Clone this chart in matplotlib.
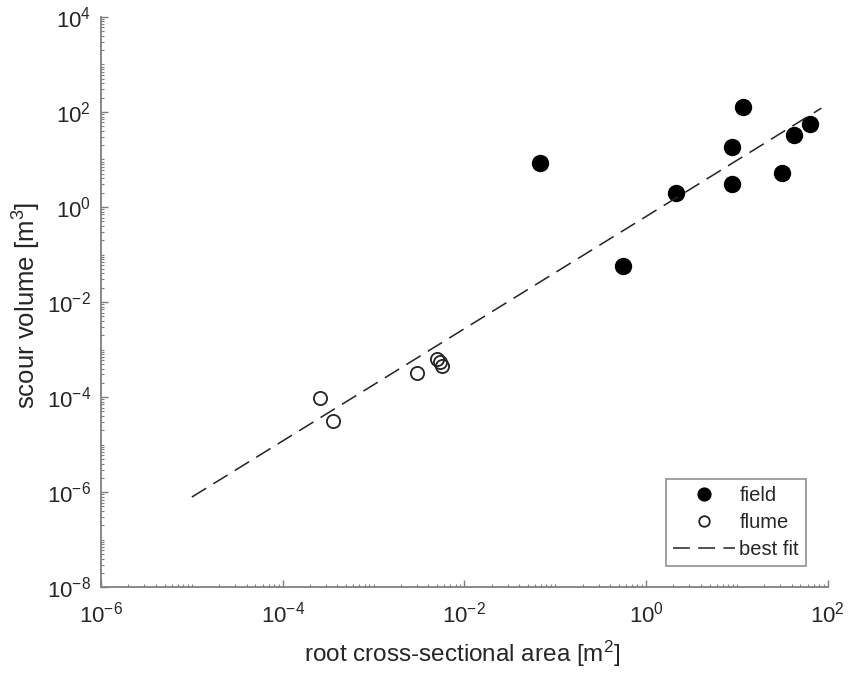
import matplotlib
matplotlib.use("Agg")
import matplotlib.pyplot as plt
import numpy as np
from matplotlib.ticker import LogLocator, NullFormatter

# root cross-sectional area [m^2] and scour volume [m^3]
field_area = [0.068, 0.55, 2.15, 8.9, 8.9, 11.7, 31.6, 42.7, 63.0]
field_volume = [8.5, 0.058, 1.95, 18.2, 3.0, 126.0, 5.2, 33.1, 56.0]

flume_area = [2.6e-4, 3.6e-4, 3.0e-3, 5.0e-3, 5.4e-3, 5.6e-3]
flume_volume = [9.5e-5, 3.1e-5, 3.2e-4, 6.3e-4, 5.5e-4, 4.5e-4]

fit_area = [1.0e-5, 85.0]
fit_volume = [7.9e-7, 120.0]

x_ticks = [1e-6, 1e-4, 1e-2, 1e0, 1e2]
x_tick_labels = [r"$10^{-6}$", r"$10^{-4}$", r"$10^{-2}$", r"$10^{0}$", r"$10^{2}$"]
y_ticks = [1e-8, 1e-6, 1e-4, 1e-2, 1e0, 1e2, 1e4]
y_tick_labels = [r"$10^{-8}$", r"$10^{-6}$", r"$10^{-4}$", r"$10^{-2}$",
                 r"$10^{0}$", r"$10^{2}$", r"$10^{4}$"]

plt.rcParams["font.family"] = ["Liberation Sans", "DejaVu Sans"]
plt.rcParams["mathtext.fontset"] = "custom"
plt.rcParams["mathtext.rm"] = "Liberation Sans"
plt.rcParams["mathtext.it"] = "Liberation Sans:italic"
plt.rcParams["mathtext.default"] = "regular"

axis_gray = "#7f7f7f"
text_gray = "#262626"

fig = plt.figure(figsize=(8.49, 6.75), dpi=100)
ax = fig.add_axes([0.119, 0.130, 0.856, 0.845])

ax.plot(field_area, field_volume, "o", color="black", markersize=11.5,
        linestyle="none", label="field")
ax.plot(flume_area, flume_volume, "o", markerfacecolor="none",
        markeredgecolor="#222222", markeredgewidth=1.3, markersize=9.5,
        linestyle="none", label="flume")
ax.plot(fit_area, fit_volume, linestyle=(0, (11, 5.5)), color="#222222",
        linewidth=1.1, label="best fit")

ax.set_xscale("log")
ax.set_yscale("log")
ax.set_xlim(1e-6, 1e2)
ax.set_ylim(1e-8, 1e4)

ax.set_xticks(x_ticks)
ax.set_xticklabels(x_tick_labels)
ax.set_yticks(y_ticks)
ax.set_yticklabels(y_tick_labels)
ax.xaxis.set_minor_locator(LogLocator(base=10, subs=np.arange(1, 10), numticks=100))
ax.yaxis.set_minor_locator(LogLocator(base=10, subs=np.arange(1, 10), numticks=100))
ax.xaxis.set_minor_formatter(NullFormatter())
ax.yaxis.set_minor_formatter(NullFormatter())

ax.tick_params(which="major", direction="in", length=5, width=1.0,
               color=axis_gray, labelcolor=text_gray, labelsize=16)
ax.tick_params(axis="x", which="major", pad=10)
ax.tick_params(axis="y", which="major", pad=7)
ax.tick_params(which="minor", direction="in", length=2.5, width=0.8,
               color=axis_gray)

for side in ["top", "right"]:
    ax.spines[side].set_visible(False)
for side in ["left", "bottom"]:
    ax.spines[side].set_color(axis_gray)
    ax.spines[side].set_linewidth(1.3)

ax.set_xlabel(r"root cross-sectional area [m$^{2}$]", fontsize=17.5,
              color=text_gray)
ax.set_ylabel(r"scour volume [m$^{3}$]", fontsize=18.5, color=text_gray)
ax.xaxis.set_label_coords(0.497, -0.091)
ax.yaxis.set_label_coords(-0.08, 0.495)

leg = ax.legend(loc="lower right", bbox_to_anchor=(0.97, 0.037),
                borderaxespad=0, fontsize=14.5, frameon=True, fancybox=False,
                handlelength=3.1, borderpad=0.35, labelspacing=0.4,
                handletextpad=0.2, markerscale=0.8)
leg.get_frame().set_edgecolor(axis_gray)
leg.get_frame().set_linewidth(1.3)
for t in leg.get_texts():
    t.set_color(text_gray)

fig.savefig("out.png", dpi=100)
